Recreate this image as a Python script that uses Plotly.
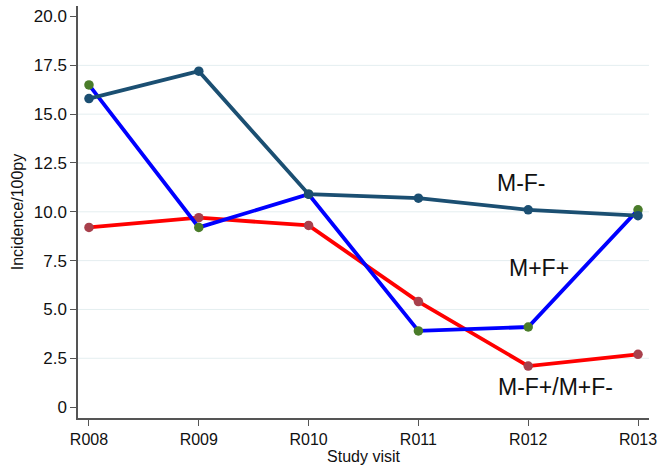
import plotly.graph_objects as go

visits = ["R008", "R009", "R010", "R011", "R012", "R013"]
mf_neg = [15.8, 17.2, 10.9, 10.7, 10.1, 9.8]
mf_pos = [16.5, 9.2, 10.9, 3.9, 4.1, 10.1]
mf_mixed = [9.2, 9.7, 9.3, 5.4, 2.1, 2.7]
y_ticks = [0, 2.5, 5.0, 7.5, 10.0, 12.5, 15.0, 17.5, 20.0]
y_labels = ["0", "2.5", "5.0", "7.5", "10.0", "12.5", "15.0", "17.5", "20.0"]

# series label, values, line colour, marker colour, label position (x index, y value)
series = [
    ("M-F-", mf_neg, "#1b4f72", "#1b4f72", (3.94, 11.47)),
    ("M+F+", mf_pos, "#0000ff", "#4a7c2a", (4.10, 7.12)),
    ("M-F+/M+F-", mf_mixed, "#ff0000", "#a8404c", (4.25, 1.02)),
]

xi = list(range(len(visits)))
fig = go.Figure()

# faint horizontal grid at interior ticks
for t in y_ticks[1:-1]:
    fig.add_shape(type="line", xref="paper", yref="y", x0=0, x1=1, y0=t, y1=t,
                  line=dict(color="#e4eef0", width=1), layer="below")

for name, vals, lc, mc, _ in [series[2], series[1], series[0]]:
    fig.add_trace(go.Scatter(
        x=xi, y=vals, mode="lines+markers", name=name,
        line=dict(color=lc, width=3.8),
        marker=dict(color=mc, size=9.5),
    ))

for name, _, _, _, (ax, ay) in series:
    fig.add_annotation(x=ax, y=ay, text=name, showarrow=False,
                       font=dict(size=23, color="#111111", family="Liberation Sans, Arial"))

fig.update_layout(
    width=663, height=465,
    margin=dict(l=78, r=10, t=6, b=47),
    paper_bgcolor="white", plot_bgcolor="white",
    showlegend=False,
    font=dict(family="Liberation Sans, Arial", color="#111111"),
    xaxis=dict(
        range=[-0.1, 5.1], tickmode="array", tickvals=xi, ticktext=visits,
        showgrid=False, zeroline=False, showline=True, linecolor="#555555", linewidth=1.5,
        ticks="outside", ticklen=6, tickcolor="#555555",
        tickfont=dict(size=16),
        title=dict(text="Study visit", font=dict(size=16), standoff=0),
    ),
    yaxis=dict(
        range=[-0.56, 20.54], tickmode="array", tickvals=y_ticks, ticktext=y_labels,
        showgrid=False, zeroline=False, showline=True, linecolor="#555555", linewidth=1.5,
        ticks="outside", ticklen=6, tickcolor="#555555",
        tickfont=dict(size=17),
        title=dict(text="Incidence/100py", font=dict(size=16), standoff=6),
    ),
)

fig.write_html("out.html")
